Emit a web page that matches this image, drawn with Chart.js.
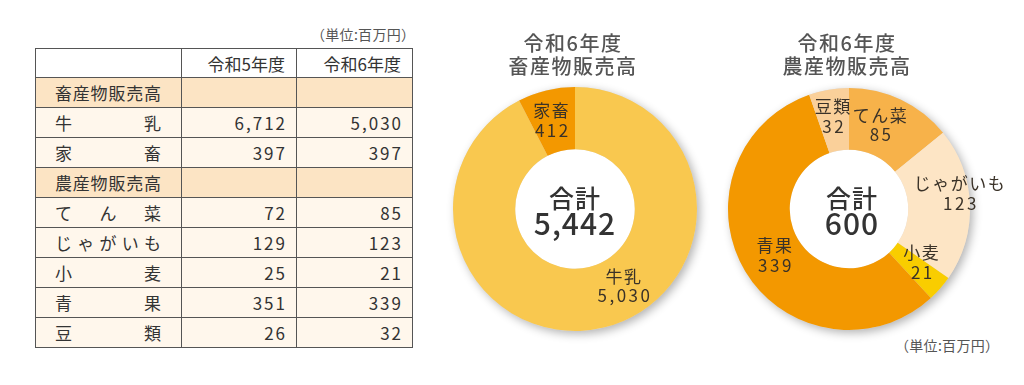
<!DOCTYPE html>
<html lang="ja">
<head>
<meta charset="utf-8">
<script src="https://cdn.jsdelivr.net/npm/chart.js@4/dist/chart.umd.min.js"></script>
<style>
  html, body { margin:0; padding:0; background:#fff; }
  body { width:1024px; height:385px; position:relative; overflow:hidden; font-family:"Noto Sans CJK JP","Noto Sans",sans-serif; color:#333; }
  .unit { position:absolute; font-size:14px; color:#555; letter-spacing:0.3px; white-space:nowrap; }
  table { position:absolute; left:35px; top:48px; border-collapse:collapse; font-size:17px; color:#333; table-layout:fixed; }
  td { border:1px solid #555; padding:0; vertical-align:middle; line-height:1; }
  tr.hdr td { background:#fff; height:28px; }
  tr.sec td { background:#fce4c4; height:29px; }
  tr.item td { background:#fff7ec; height:29px; }
  .cat { display:flex; justify-content:space-between; padding:0 20px 0 19px; }
  .num { text-align:right; padding-right:9px; letter-spacing:2px; }
  .yr { text-align:right; padding-right:11px; }
  canvas { position:absolute; top:0; }
</style>
</head>
<body>
<div class="unit" style="left:311px; top:24px;">（単位:百万円）</div>
<table id="tbl">
  <colgroup><col style="width:146px"><col style="width:115px"><col style="width:116px"></colgroup>
  <tbody id="tbody"></tbody>
</table>
<div class="unit" style="left:895px; top:335px;">（単位:百万円）</div>
<canvas id="c1" width="270" height="385" style="left:440px; width:270px; height:385px;"></canvas>
<canvas id="c2" width="312" height="385" style="left:712px; width:312px; height:385px;"></canvas>
<script>
// ---- data ----
const yearLabels = ['令和5年度', '令和6年度'];
const sectionNames = ['畜産物販売高', '農産物販売高'];
const tableCats = ['牛乳', '家畜', 'てん菜', 'じゃがいも', '小麦', '青果', '豆類'];
const tableSection = [0, 0, 1, 1, 1, 1, 1];
const valuesR5 = [6712, 397, 72, 129, 25, 351, 26];
const valuesR6 = [5030, 397, 85, 123, 21, 339, 32];

const livestockTitle = ['令和6年度', '畜産物販売高'];
const livestockLabels = ['牛乳', '家畜'];
const livestockValues = [5030, 412];

const farmTitle = ['令和6年度', '農産物販売高'];
const farmLabels = ['てん菜', 'じゃがいも', '小麦', '青果', '豆類'];
const farmValues = [85, 123, 21, 339, 32];

const fmt = v => v.toLocaleString('en-US');

// ---- table ----
const tbody = document.getElementById('tbody');
function addRow(cls, cells) {
  const tr = document.createElement('tr');
  tr.className = cls;
  cells.forEach(c => { const td = document.createElement('td'); if (c.cls) td.className = c.cls; if (c.html !== undefined) td.innerHTML = c.html; tr.appendChild(td); });
  tbody.appendChild(tr);
}
function catHtml(s) { return '<div class="cat">' + Array.from(s).map(ch => '<span>' + ch + '</span>').join('') + '</div>'; }
addRow('hdr', [{html:''}, {cls:'yr', html:yearLabels[0]}, {cls:'yr', html:yearLabels[1]}]);
let lastSec = -1;
tableCats.forEach((c, i) => {
  if (tableSection[i] !== lastSec) {
    lastSec = tableSection[i];
    addRow('sec', [{html:catHtml(sectionNames[lastSec])}, {html:''}, {html:''}]);
  }
  addRow('item', [{html:catHtml(c)}, {cls:'num', html:fmt(valuesR5[i])}, {cls:'num', html:fmt(valuesR6[i])}]);
});

// ---- doughnut decoration plugin ----
const FONT = '"Noto Sans CJK JP","Noto Sans",sans-serif';
const deco = {
  id: 'deco',
  beforeDatasetsDraw(chart) {
    const a = chart.getDatasetMeta(0).data[0];
    const {x, y, outerRadius, innerRadius} = a.getProps(['x','y','outerRadius','innerRadius'], true);
    const ctx = chart.ctx;
    ctx.save();
    ctx.shadowColor = 'rgba(0,0,0,0.3)';
    ctx.shadowBlur = 10; ctx.shadowOffsetX = 3; ctx.shadowOffsetY = 3;
    ctx.beginPath(); ctx.arc(x, y, outerRadius, 0, Math.PI * 2); ctx.fillStyle = '#ddd'; ctx.fill();
    ctx.restore();
    ctx.save();
    ctx.beginPath(); ctx.arc(x, y, innerRadius, 0, Math.PI * 2); ctx.fillStyle = '#fff'; ctx.fill();
    ctx.restore();
  },
  afterDatasetsDraw(chart, args, opts) {
    const ctx = chart.ctx;
    const meta = chart.getDatasetMeta(0);
    const a0 = meta.data[0].getProps(['x','y'], true);
    const cx = a0.x, cy = a0.y;
    ctx.save();
    ctx.textAlign = 'center'; ctx.textBaseline = 'middle';
    // title
    ctx.fillStyle = '#555';
    ctx.font = '500 20px ' + FONT;
    ctx.letterSpacing = '1.5px';
    opts.title.forEach((t, i) => ctx.fillText(t, cx + opts.titleDx, 43 + i * 23));
    // center
    ctx.fillStyle = '#333';
    ctx.letterSpacing = '1px';
    ctx.font = '500 25px ' + FONT;
    ctx.fillText('合計', cx + opts.centerDx, cy - 11);
    ctx.font = '500 30px ' + FONT;
    const total = chart.data.datasets[0].data.reduce((s, v) => s + v, 0);
    ctx.fillText(fmt(total), cx + opts.centerDx, cy + 15);
    // segment labels
    ctx.font = '400 17px ' + FONT;
    ctx.fillStyle = '#3a3228';
    ctx.letterSpacing = '1.5px';
    meta.data.forEach((arc, i) => {
      const p = arc.getProps(['startAngle','endAngle','innerRadius','outerRadius'], true);
      const adj = (opts.adjust && opts.adjust[i]) || {da:0, dr:0};
      const ang = (p.startAngle + p.endAngle) / 2 + adj.da * Math.PI / 180;
      const r = (p.innerRadius + p.outerRadius) / 2 + adj.dr;
      const lx = cx + Math.cos(ang) * r, ly = cy + Math.sin(ang) * r;
      ctx.fillText(chart.data.labels[i], lx, ly - 9.5);
      ctx.letterSpacing = '2.5px';
      ctx.fillText(fmt(chart.data.datasets[0].data[i]), lx + 1, ly + 10);
      ctx.letterSpacing = '1.5px';
    });
    ctx.restore();
  }
};

function makeDonut(id, labels, values, colors, padding, pluginOpts) {
  return new Chart(document.getElementById(id), {
    type: 'doughnut',
    data: { labels: labels, datasets: [{ data: values, backgroundColor: colors, borderWidth: 0, hoverOffset: 0 }] },
    options: {
      responsive: false, animation: false, cutout: '49%', rotation: 0,
      layout: { padding: padding },
      plugins: { legend: { display: false }, tooltip: { enabled: false }, deco: pluginOpts }
    },
    plugins: [deco]
  });
}

makeDonut('c1', livestockLabels, livestockValues, ['#f9c84f', '#f39800'],
  { left: 13, right: 13, top: 87, bottom: 54 },
  { title: livestockTitle, titleDx: -2, centerDx: 0, adjust: [{da:-19, dr:0}, {da:-1, dr:1}] });

makeDonut('c2', farmLabels, farmValues, ['#f7b24a', '#fde5c5', '#f9cd00', '#f39800', '#fad09a'],
  { left: 16, right: 54, top: 88, bottom: 55 },
  { title: farmTitle, titleDx: -2, centerDx: 3, adjust: [{da:-5, dr:0}, {da:-6, dr:22}, {da:-5, dr:0}, {da:-1, dr:-3}, {da:0, dr:4}] });
</script>
</body>
</html>
